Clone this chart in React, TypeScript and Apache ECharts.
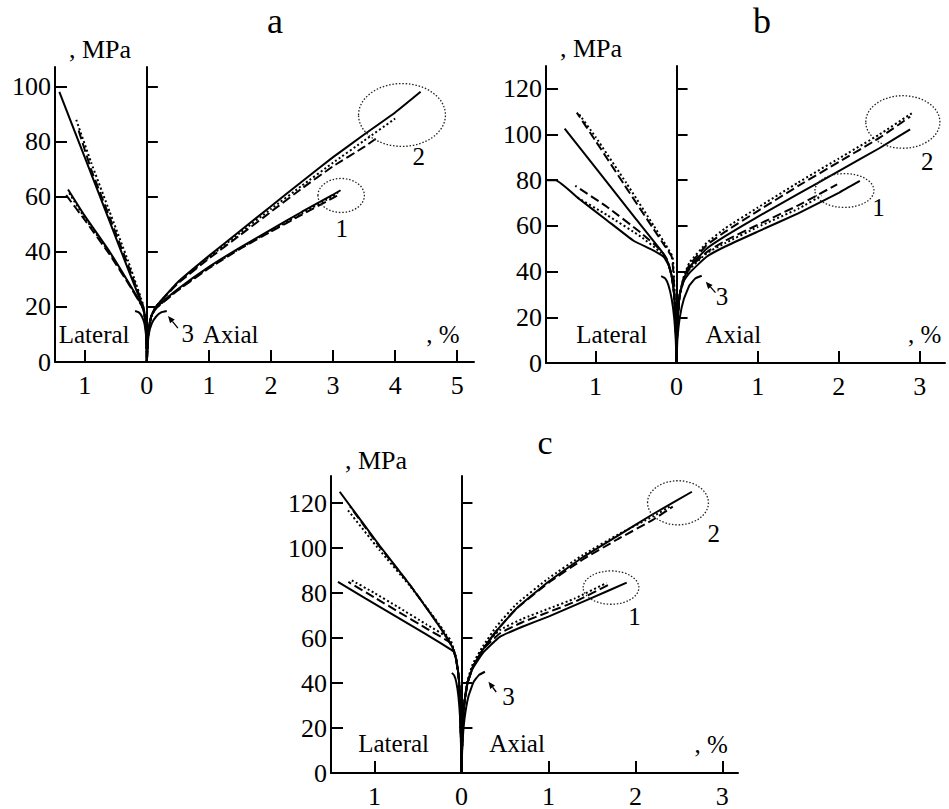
import React, { useEffect, useRef } from "react";
import * as echarts from "echarts";

type Pts = number[][];

const FONT = "'Liberation Serif', 'Times New Roman', Times, serif";

// ---------------- Panel a ----------------
const aXTicks = [-1, 0, 1, 2, 3, 4, 5];
const aYTicks = [0, 20, 40, 60, 80, 100];

const aAx2Solid: Pts = [[0, 0], [0.01, 6], [0.03, 12], [0.07, 16.5], [0.13, 19.5], [0.2, 21.5], [0.5, 29], [1, 38.5], [1.5, 47.5], [2, 56.5], [2.5, 65.5], [3, 74.3], [3.5, 82.5], [4, 90.5], [4.41, 98]];
const aAx2Dash: Pts = [[0, 0], [0.01, 6], [0.03, 12], [0.07, 16.5], [0.13, 19.5], [0.2, 21.5], [0.5, 28.5], [1, 37.5], [1.5, 46], [2, 54.5], [2.5, 63], [3, 71], [3.5, 78], [3.72, 81.5]];
const aAx2Dot: Pts = [[0, 0], [0.01, 6], [0.03, 12], [0.07, 16.5], [0.13, 19.5], [0.2, 21.5], [0.5, 28.8], [1, 38], [1.5, 46.8], [2, 55.5], [2.5, 64], [3, 72.3], [3.5, 80.3], [4, 88.3]];
const aAx1Solid: Pts = [[0, 0], [0.01, 6], [0.03, 12], [0.07, 16.5], [0.13, 19], [0.2, 20.8], [0.5, 26.5], [1, 34.5], [1.5, 41.5], [2, 48], [2.5, 54.5], [3, 60.7], [3.12, 62.3]];
const aAx1Dash: Pts = [[0, 0], [0.01, 6], [0.03, 12], [0.07, 16.5], [0.13, 19], [0.2, 20.5], [0.5, 26], [1, 34], [1.5, 41], [2, 47.3], [2.5, 53.5], [3, 59.5], [3.12, 61]];
const aAx1Dot: Pts = [[0, 0], [0.01, 6], [0.03, 12], [0.07, 16.5], [0.13, 19], [0.2, 20.6], [0.5, 26.2], [1, 34.2], [1.5, 41.2], [2, 47.6], [2.5, 54], [3, 60.2], [3.08, 61.6]];
const aLat2Solid: Pts = [[0, 0], [-0.003, 5], [-0.01, 10], [-0.025, 15], [-0.045, 18.5], [-0.08, 21], [-0.3, 33.5], [-0.6, 51], [-1.0, 74.2], [-1.41, 98]];
const aLat2Dash: Pts = [[0, 0], [-0.003, 5], [-0.01, 10], [-0.025, 15], [-0.045, 18.5], [-0.07, 21], [-0.3, 35], [-0.6, 52.5], [-0.9, 70], [-1.1, 84]];
const aLat2Dot: Pts = [[0, 0], [-0.003, 5], [-0.01, 10], [-0.025, 15], [-0.045, 18.5], [-0.07, 21.5], [-0.3, 36.5], [-0.6, 54.5], [-0.9, 72.5], [-1.145, 88.3]];
const aLat1Solid: Pts = [[0, 0], [-0.003, 5], [-0.01, 10], [-0.025, 15], [-0.045, 18], [-0.08, 20.5], [-0.3, 29], [-0.6, 40], [-1.0, 53], [-1.27, 62.6]];
const aLat1Dash: Pts = [[0, 0], [-0.003, 5], [-0.01, 10], [-0.025, 15], [-0.045, 18], [-0.08, 20.3], [-0.3, 28.5], [-0.6, 39], [-1.0, 51.5], [-1.3, 60.5]];
const aLat1Dot: Pts = [[0, 0], [-0.003, 5], [-0.01, 10], [-0.025, 15], [-0.045, 18], [-0.08, 20.4], [-0.3, 28.8], [-0.6, 39.6], [-1.0, 52.3], [-1.25, 61.2]];
const aCurve3Right: Pts = [[0, 0], [0.01, 5], [0.03, 10], [0.08, 14], [0.15, 16.5], [0.23, 18], [0.32, 18.5]];
const aCurve3Left: Pts = [[0, 0], [-0.005, 5], [-0.015, 10], [-0.04, 14], [-0.08, 16.5], [-0.13, 18], [-0.19, 18.5]];
const aEllipses: Pts = [[3.13, 60.4, 0.374, 6.17], [4.11, 89.6, 0.7, 11.4]];
const aNoteText = ["Lateral", "Axial", ", %", "1", "2", "3"];
const aNoteX = [-0.85, 1.35, 4.77, 3.14, 4.38, 0.66];
const aNoteY = [9.8, 9.8, 9.8, 48.5, 74.5, 10.5];
const aArrow: Pts = [[0.5, 12.3, 0.34, 16.7]];

// ---------------- Panel b ----------------
const bXTicks = [-1, 0, 1, 2, 3];
const bYTicks = [0, 20, 40, 60, 80, 100, 120];

const bAx2Solid: Pts = [[0, 0], [0.005, 10], [0.015, 20], [0.04, 30], [0.09, 37], [0.16, 42], [0.37, 50], [0.6, 55.5], [1, 64], [1.5, 74], [2, 84], [2.5, 94], [2.88, 102.3]];
const bAx2Dash: Pts = [[0, 0], [0.005, 10], [0.015, 20], [0.04, 30], [0.09, 37.5], [0.16, 43], [0.37, 51.5], [0.6, 57.5], [1, 66.5], [1.5, 77.5], [2, 88], [2.5, 98.5], [2.88, 107.8]];
const bAx2Dot: Pts = [[0, 0], [0.005, 10], [0.015, 20], [0.04, 30], [0.09, 38], [0.16, 44], [0.37, 52.5], [0.6, 59], [1, 68], [1.5, 79], [2, 89.5], [2.5, 100], [2.9, 109.3]];
const bAx1Solid: Pts = [[0, 0], [0.005, 10], [0.015, 20], [0.04, 30], [0.09, 36], [0.16, 39.5], [0.37, 46.5], [0.6, 51], [1, 57.5], [1.5, 65.5], [2, 74.5], [2.26, 79.7]];
const bAx1Dash: Pts = [[0, 0], [0.005, 10], [0.015, 20], [0.04, 30], [0.09, 36.5], [0.16, 41.5], [0.37, 48.5], [0.6, 53.5], [1, 60.5], [1.5, 69], [1.98, 78.2]];
const bAx1Dot: Pts = [[0, 0], [0.005, 10], [0.015, 20], [0.04, 30], [0.09, 36.5], [0.16, 41], [0.37, 48], [0.6, 52.5], [1, 59.5], [1.5, 67.5], [1.79, 73.3]];
const bLat2Solid: Pts = [[0, 0], [-0.005, 10], [-0.015, 20], [-0.03, 30], [-0.06, 38], [-0.1, 43.5], [-0.16, 47.8], [-0.5, 63], [-1.0, 85.5], [-1.38, 102.6]];
const bLat2Dash: Pts = [[0, 0], [-0.005, 10], [-0.012, 20], [-0.025, 30], [-0.04, 40], [-0.06, 46.5], [-0.15, 51.5], [-0.3, 59.5], [-0.65, 78.3], [-1.0, 97.3], [-1.23, 109.6]];
const bLat2Dot: Pts = [[0, 0], [-0.005, 10], [-0.012, 20], [-0.025, 30], [-0.035, 40], [-0.05, 46.5], [-0.13, 51.5], [-0.28, 60], [-0.62, 78.8], [-1.0, 99], [-1.21, 109.3]];
const bLat1Solid: Pts = [[0, 0], [-0.005, 10], [-0.015, 20], [-0.03, 30], [-0.06, 38], [-0.1, 43], [-0.16, 46.5], [-0.3, 49.5], [-0.53, 53.5], [-0.86, 62.5], [-1.2, 71.8], [-1.49, 80], [-1.6, 80]];
const bLat1Dash: Pts = [[0, 0], [-0.005, 10], [-0.015, 20], [-0.03, 30], [-0.06, 38], [-0.12, 45.5], [-0.2, 49.5], [-0.44, 57], [-0.86, 68.4], [-1.25, 77.6]];
const bLat1Dot: Pts = [[0, 0], [-0.005, 10], [-0.015, 20], [-0.03, 30], [-0.06, 38], [-0.12, 45], [-0.2, 48.5], [-0.44, 55.3], [-0.86, 64.8], [-1.25, 73]];
const bCurve3Right: Pts = [[0, 0], [0.01, 10], [0.04, 20], [0.09, 28], [0.16, 34], [0.23, 37], [0.31, 38.2]];
const bCurve3Left: Pts = [[0, 0], [-0.01, 10], [-0.03, 20], [-0.06, 28], [-0.1, 34], [-0.14, 37], [-0.19, 38]];
const bEllipses: Pts = [[2.07, 75.5, 0.364, 7.4], [2.79, 105.5, 0.457, 11.5]];
const bNoteText = ["Lateral", "Axial", ", %", "1", "2", "3"];
const bNoteX = [-0.8, 0.7, 3.06, 2.49, 3.09, 0.56];
const bNoteY = [12.3, 12.3, 12.3, 67.9, 88.3, 29];
const bArrow: Pts = [[0.48, 30.8, 0.36, 35.6]];

// ---------------- Panel c ----------------
const cXTicks = [-1, 0, 1, 2, 3];
const cYTicks = [0, 20, 40, 60, 80, 100, 120];

const cAx2Solid: Pts = [[0, 0], [0.01, 15], [0.03, 30], [0.07, 40], [0.13, 47], [0.25, 55], [0.4, 63], [0.63, 73], [1, 85], [1.4, 96], [1.8, 105.5], [2.2, 115], [2.65, 125]];
const cAx2Dash: Pts = [[0, 0], [0.01, 15], [0.03, 30], [0.07, 40], [0.13, 47], [0.25, 55], [0.4, 63], [0.63, 73], [1, 84.5], [1.4, 95], [1.8, 104], [2.2, 112.5], [2.43, 118.4]];
const cAx2Dot: Pts = [[0, 0], [0.01, 15], [0.03, 30], [0.07, 41], [0.13, 48.5], [0.25, 56.5], [0.4, 65], [0.63, 75], [1, 86.5], [1.4, 97], [1.8, 106], [2.2, 114], [2.4, 118.5]];
const cAx1Solid: Pts = [[0, 0], [0.01, 15], [0.03, 30], [0.07, 40], [0.13, 46.5], [0.25, 53.5], [0.44, 60.5], [0.7, 65], [1, 69.5], [1.48, 77.5], [1.9, 84.6]];
const cAx1Dash: Pts = [[0, 0], [0.01, 15], [0.03, 30], [0.07, 40], [0.13, 47], [0.25, 55], [0.44, 62], [0.7, 67], [1, 71.5], [1.3, 76], [1.71, 84]];
const cAx1Dot: Pts = [[0, 0], [0.01, 15], [0.03, 30], [0.07, 40.5], [0.13, 47.5], [0.25, 56], [0.44, 63.5], [0.7, 68.5], [1, 73], [1.3, 77.5], [1.67, 84.5]];
const cLat2Solid: Pts = [[0, 0], [-0.005, 15], [-0.015, 30], [-0.03, 42], [-0.06, 50], [-0.1, 55.5], [-0.2, 62], [-0.36, 71], [-0.6, 84], [-0.94, 101], [-1.4, 125]];
const cLat2Dash: Pts = [[0, 0], [-0.005, 15], [-0.015, 30], [-0.03, 42], [-0.06, 50], [-0.1, 55.5], [-0.2, 62.3], [-0.36, 71.2], [-0.6, 84], [-0.94, 100.5], [-1.28, 118.4]];
const cLat2Dot: Pts = [[0, 0], [-0.005, 15], [-0.015, 30], [-0.03, 42], [-0.06, 51], [-0.1, 56], [-0.2, 63], [-0.36, 71.5], [-0.6, 83.5], [-0.94, 99], [-1.32, 117.5]];
const cLat1Solid: Pts = [[0, 0], [-0.005, 15], [-0.015, 30], [-0.03, 42], [-0.06, 50.5], [-0.09, 54], [-0.4, 61.5], [-0.74, 69.3], [-1.1, 77.5], [-1.42, 84.9]];
const cLat1Dash: Pts = [[0, 0], [-0.005, 15], [-0.015, 30], [-0.03, 42], [-0.06, 50.5], [-0.09, 54.5], [-0.13, 58], [-0.4, 64.2], [-0.74, 72], [-1.0, 78], [-1.3, 84.9]];
const cLat1Dot: Pts = [[0, 0], [-0.005, 15], [-0.015, 30], [-0.03, 42], [-0.06, 50.5], [-0.09, 55], [-0.13, 59.5], [-0.4, 66], [-0.74, 74], [-1.0, 80], [-1.26, 85.6]];
const cCurve3Right: Pts = [[0, 0], [0.01, 12], [0.035, 24], [0.08, 34], [0.14, 40.5], [0.2, 43.5], [0.27, 45]];
const cCurve3Left: Pts = [[0, 0], [-0.005, 12], [-0.015, 24], [-0.035, 34], [-0.06, 40.5], [-0.085, 43.5], [-0.11, 44.5]];
const cEllipses: Pts = [[1.72, 82.4, 0.32, 7.4], [2.49, 120.1, 0.35, 9.8]];
const cNoteText = ["Lateral", "Axial", ", %", "1", "2", "3"];
const cNoteX = [-0.78, 0.64, 2.87, 1.99, 2.9, 0.54];
const cNoteY = [13.2, 13.2, 12.6, 69.5, 106.4, 33.9];
const cArrow: Pts = [[0.4, 36, 0.31, 40.6]];

type Kind = "solid" | "dash" | "dot";

interface Panel {
  title: string;
  titlePos: number[];
  titleSize: number;
  box: number[];
  xMin: number;
  xMax: number;
  yMax: number;
  xTicks: number[];
  yTicks: number[];
  nameGap: number;
  lines: [Pts, Kind][];
  ellipses: Pts;
  noteText: string[];
  noteX: number[];
  noteY: number[];
  arrow: Pts;
}

const panels: Panel[] = [
  {
    title: "a", titlePos: [275, 21], titleSize: 36,
    box: [55, 67, 419, 295], xMin: -1.48, xMax: 5.27, yMax: 107,
    xTicks: aXTicks, yTicks: aYTicks, nameGap: 5,
    lines: [
      [aAx2Solid, "solid"], [aAx2Dash, "dash"], [aAx2Dot, "dot"],
      [aAx1Solid, "solid"], [aAx1Dash, "dash"], [aAx1Dot, "dot"],
      [aLat2Solid, "solid"], [aLat2Dash, "dash"], [aLat2Dot, "dot"],
      [aLat1Solid, "solid"], [aLat1Dash, "dash"], [aLat1Dot, "dot"],
      [aCurve3Right, "solid"], [aCurve3Left, "solid"],
    ],
    ellipses: aEllipses, noteText: aNoteText, noteX: aNoteX, noteY: aNoteY, arrow: aArrow,
  },
  {
    title: "b", titlePos: [762, 21], titleSize: 36,
    box: [546, 66, 399, 297], xMin: -1.61, xMax: 3.31, yMax: 130,
    xTicks: bXTicks, yTicks: bYTicks, nameGap: 5,
    lines: [
      [bAx2Solid, "solid"], [bAx2Dash, "dash"], [bAx2Dot, "dot"],
      [bAx1Solid, "solid"], [bAx1Dash, "dash"], [bAx1Dot, "dot"],
      [bLat2Solid, "solid"], [bLat2Dash, "dash"], [bLat2Dot, "dot"],
      [bLat1Solid, "solid"], [bLat1Dash, "dash"], [bLat1Dot, "dot"],
      [bCurve3Right, "solid"], [bCurve3Left, "solid"],
    ],
    ellipses: bEllipses, noteText: bNoteText, noteX: bNoteX, noteY: bNoteY, arrow: bArrow,
  },
  {
    title: "c", titlePos: [545, 442], titleSize: 34,
    box: [331, 476, 407, 297], xMin: -1.5, xMax: 3.18, yMax: 132,
    xTicks: cXTicks, yTicks: cYTicks, nameGap: 3,
    lines: [
      [cAx2Solid, "solid"], [cAx2Dash, "dash"], [cAx2Dot, "dot"],
      [cAx1Solid, "solid"], [cAx1Dash, "dash"], [cAx1Dot, "dot"],
      [cLat2Solid, "solid"], [cLat2Dash, "dash"], [cLat2Dot, "dot"],
      [cLat1Solid, "solid"], [cLat1Dash, "dash"], [cLat1Dot, "dot"],
      [cCurve3Right, "solid"], [cCurve3Left, "solid"],
    ],
    ellipses: cEllipses, noteText: cNoteText, noteX: cNoteX, noteY: cNoteY, arrow: cArrow,
  },
];

const dashFor = (k: Kind): any => (k === "solid" ? "solid" : k === "dash" ? [9, 4] : [2, 2.5]);

function buildOption() {
  const axisLineStyle = { color: "#000", width: 2 };
  const series: any[] = [];
  panels.forEach((p, i) => {
    p.lines.forEach(([data, kind]) => {
      series.push({
        type: "line",
        xAxisIndex: i,
        yAxisIndex: 2 * i,
        data,
        symbol: "none",
        smooth: 0.12,
        silent: true,
        z: 3,
        lineStyle: { color: "#000", width: 2, type: dashFor(kind) },
      });
    });
    series.push({
      type: "custom",
      coordinateSystem: "cartesian2d",
      xAxisIndex: i,
      yAxisIndex: 2 * i,
      data: p.ellipses,
      encode: { x: 0, y: 1 },
      silent: true,
      clip: false,
      z: 4,
      renderItem: (_params: any, api: any) => {
        const c = api.coord([api.value(0), api.value(1)]);
        const s = api.size([api.value(2), api.value(3)]);
        return {
          type: "ellipse",
          shape: { cx: c[0], cy: c[1], rx: s[0], ry: s[1] },
          style: { fill: "none", stroke: "#222", lineWidth: 1.3, lineDash: [1.5, 1.8] },
        };
      },
    });
    series.push({
      type: "custom",
      coordinateSystem: "cartesian2d",
      xAxisIndex: i,
      yAxisIndex: 2 * i,
      data: p.noteX.map((x, k) => [x, p.noteY[k]]),
      encode: { x: 0, y: 1 },
      silent: true,
      clip: false,
      z: 5,
      renderItem: (params: any, api: any) => {
        const c = api.coord([api.value(0), api.value(1)]);
        return {
          type: "text",
          x: c[0],
          y: c[1],
          style: {
            text: p.noteText[params.dataIndex],
            fill: "#000",
            fontSize: 25,
            fontFamily: FONT,
            align: "center",
            verticalAlign: "middle",
            textAlign: "center",
            textVerticalAlign: "middle",
          },
        };
      },
    });
    series.push({
      type: "custom",
      coordinateSystem: "cartesian2d",
      xAxisIndex: i,
      yAxisIndex: 2 * i,
      data: p.arrow,
      encode: { x: [0, 2], y: [1, 3] },
      silent: true,
      clip: false,
      z: 5,
      renderItem: (_params: any, api: any) => {
        const t = api.coord([api.value(0), api.value(1)]);
        const h = api.coord([api.value(2), api.value(3)]);
        const ang = Math.atan2(h[1] - t[1], h[0] - t[0]);
        const L = 7;
        const W = 3;
        const bx = h[0] - L * Math.cos(ang);
        const by = h[1] - L * Math.sin(ang);
        const px = -Math.sin(ang);
        const py = Math.cos(ang);
        return {
          type: "group",
          children: [
            { type: "line", shape: { x1: t[0], y1: t[1], x2: bx, y2: by }, style: { stroke: "#000", lineWidth: 1.3 } },
            {
              type: "polygon",
              shape: { points: [[h[0], h[1]], [bx + px * W, by + py * W], [bx - px * W, by - py * W]] },
              style: { fill: "#000" },
            },
          ],
        };
      },
    });
  });

  const labelStyle = { color: "#000", fontSize: 26, fontFamily: FONT };

  return {
    animation: false,
    backgroundColor: "#fff",
    textStyle: { fontFamily: FONT },
    grid: panels.map((p) => ({ left: p.box[0], top: p.box[1], width: p.box[2], height: p.box[3] })),
    xAxis: panels.map((p, i) => ({
      type: "value",
      gridIndex: i,
      min: p.xMin,
      max: p.xMax,
      axisLine: { onZero: false, lineStyle: axisLineStyle },
      axisTick: { inside: true, length: 12, lineStyle: axisLineStyle, customValues: p.xTicks.filter((v) => v !== 0) },
      axisLabel: { ...labelStyle, margin: 10, customValues: p.xTicks, formatter: (v: number) => String(Math.abs(v)) },
      splitLine: { show: false },
    })),
    yAxis: panels.flatMap((p, i) => [
      {
        type: "value",
        gridIndex: i,
        position: "left",
        min: 0,
        max: p.yMax,
        name: ", MPa",
        nameLocation: "end",
        nameGap: p.nameGap,
        nameTextStyle: { ...labelStyle, fontSize: 26, align: "left", verticalAlign: "bottom", padding: [0, 0, 0, 14] },
        axisLine: { onZero: false, lineStyle: axisLineStyle },
        axisTick: { inside: true, length: 12, lineStyle: axisLineStyle, customValues: p.yTicks.filter((v) => v > 0) },
        axisLabel: { ...labelStyle, margin: 4, customValues: p.yTicks },
        splitLine: { show: false },
      },
      {
        type: "value",
        gridIndex: i,
        position: "left",
        min: 0,
        max: p.yMax,
        axisLine: { onZero: true, lineStyle: axisLineStyle },
        axisTick: { inside: true, length: 11, lineStyle: axisLineStyle, customValues: p.yTicks.filter((v) => v > 0) },
        axisLabel: { show: false },
        splitLine: { show: false },
      },
    ]),
    graphic: panels.map((p) => ({
      type: "text",
      x: p.titlePos[0],
      y: p.titlePos[1],
      style: {
        text: p.title,
        fill: "#000",
        fontSize: p.titleSize,
        fontFamily: FONT,
        align: "center",
        verticalAlign: "middle",
        textAlign: "center",
        textVerticalAlign: "middle",
      },
    })),
    series,
  };
}

export default function App() {
  const ref = useRef<HTMLDivElement>(null);
  useEffect(() => {
    document.body.style.margin = "0";
    if (!ref.current) return;
    const chart = echarts.init(ref.current, undefined, { renderer: "svg" });
    chart.setOption(buildOption() as any);
    return () => chart.dispose();
  }, []);
  return <div ref={ref} style={{ width: 949, height: 809, background: "#fff" }} />;
}
